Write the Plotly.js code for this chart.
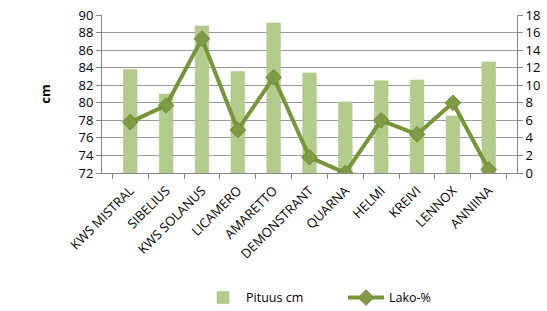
<!DOCTYPE html>
<html><head><meta charset="utf-8">
<script src="https://cdn.plot.ly/plotly-3.0.1.min.js"></script>
<style>html,body{margin:0;padding:0;background:#fff}#chart{width:547px;height:311px}</style>
</head><body><div id="chart"></div>
<script>
const categories = ["KWS MISTRAL","SIBELIUS","KWS SOLANUS","LICAMERO","AMARETTO","DEMONSTRANT","QUARNA","HELMI","KREIVI","LENNOX","ANNIINA"];
const pituus = [83.8, 81.0, 88.75, 83.55, 89.1, 83.4, 80.1, 82.5, 82.6, 78.5, 84.65];
const lako = [5.8, 7.7, 15.3, 4.9, 10.9, 1.8, 0.0, 6.0, 4.4, 8.0, 0.4];
const leftTicks = [72,74,76,78,80,82,84,86,88,90];
const rightTicks = [0,2,4,6,8,10,12,14,16,18];

const fam = "Open Sans, Liberation Sans, sans-serif";
const font = {family: fam, size: 12, color: "#000"};
const data = [
  {type: "bar", name: "Pituus cm", x: categories, y: pituus,
   marker: {color: "#b3cc8c", line: {color: "#a6c27c", width: 0.5}}, width: 0.38},
  {type: "scatter", mode: "lines+markers", name: "Lako-%", x: categories, y: lako, yaxis: "y2",
   line: {color: "#77963a", width: 4},
   marker: {symbol: "diamond", size: 12, color: "#7f9c45", line: {color: "#6d8a35", width: 1}}}
];
const layout = {
  width: 547, height: 311,
  margin: {l: 102, r: 30, t: 15, b: 138},
  paper_bgcolor: "#fff", plot_bgcolor: "#fff",
  font: font,
  showlegend: true,
  legend: {orientation: "h", x: 200/547, xref: "container", xanchor: "left",
           y: 0.042, yref: "container", yanchor: "middle", font: {family: fam, size: 12.5, color: "#000"},
           entrywidth: 92, entrywidthmode: "pixels", itemwidth: 36},
  xaxis: {type: "category", tickangle: -45, showgrid: false, showline: true, linecolor: "#888",
          ticks: "outside", ticklen: 5, tickcolor: "#888", tickson: "boundaries", automargin: false,
          ticklabelstandoff: 4,
          tickfont: {family: fam, size: 13, color: "#000"}},
  yaxis: {range: [72, 90], tickvals: leftTicks, showgrid: true, gridcolor: "#9a9a9a", gridwidth: 1,
          showline: true, linecolor: "#888", ticks: "outside", ticklen: 5, tickcolor: "#888",
          zeroline: false, automargin: false, tickfont: {family: fam, size: 13, color: "#000"},
          title: {text: "<b>cm</b>", font: {family: fam, size: 13, color: "#000"}, standoff: 24}},
  yaxis2: {range: [0, 18], tickvals: rightTicks, overlaying: "y", side: "right", showgrid: false,
           showline: true, linecolor: "#888", ticks: "outside", ticklen: 5, tickcolor: "#888",
           zeroline: false, automargin: false, tickfont: {family: fam, size: 13, color: "#000"}}
};
Plotly.newPlot("chart", data, layout, {staticPlot: true, displayModeBar: false});
</script></body></html>
